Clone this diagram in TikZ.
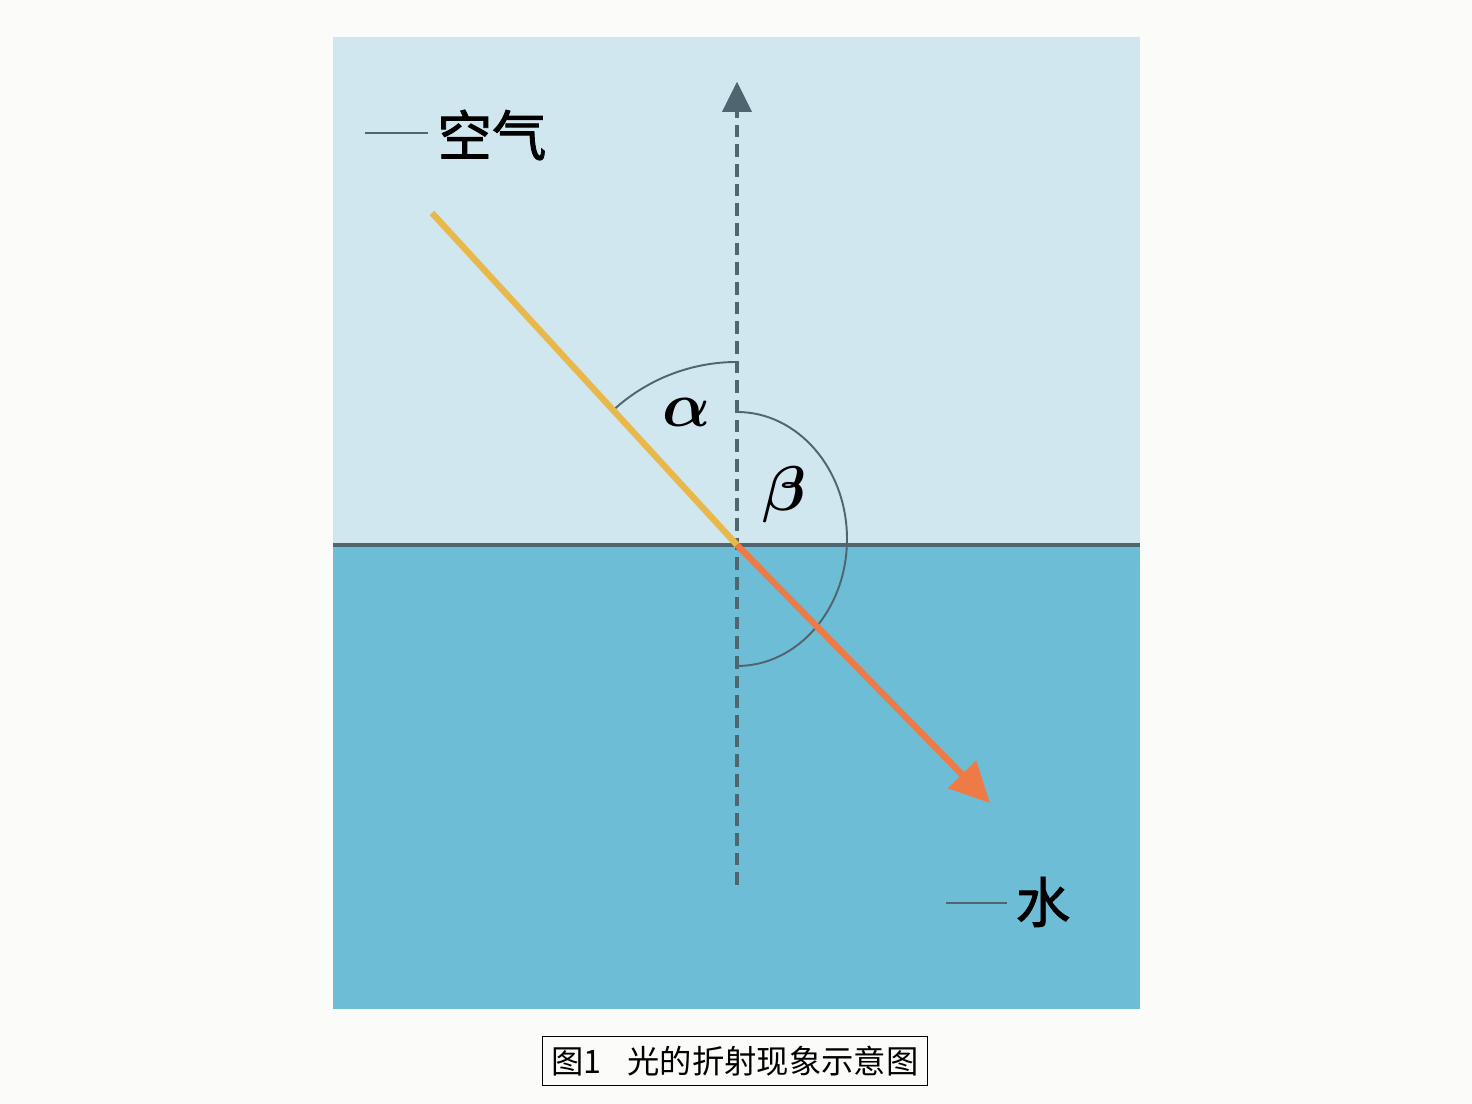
\RequirePackage{fix-cm}
\documentclass[tikz,border=0pt]{standalone}
\usepackage{amsmath}
\usepackage{bm}
\usepackage{fontspec}
\newfontfamily\cjk{Noto Sans CJK SC}
\newfontfamily\cjkheavy{Noto Sans CJK SC}[FakeBold=1.6]
\usetikzlibrary{arrows.meta}
\definecolor{airblue}{HTML}{D0E7F0}
\definecolor{waterblue}{HTML}{6DBDD6}
\definecolor{slate}{HTML}{4F6570}
\definecolor{rayyellow}{HTML}{E8B84B}
\definecolor{rayorange}{HTML}{EE7B46}
\definecolor{paper}{HTML}{FBFBF9}
\tikzset{
x=0.02cm, y=0.02cm, % one unit is one pixel of the reference
normal/.style={slate, line width=2pt, dash pattern=on 7.2pt off 4pt}, % the dashed normal
surface/.style={slate, line width=2.8pt}, % the boundary between air and water
incident/.style={rayyellow, line width=3.6pt}, % ray in air
refracted/.style={rayorange, line width=3.6pt, -{Triangle[length=0.8cm, width=0.76cm]}}, % ray in water
anglearc/.style={slate, line width=1.1pt}, % angle marks
leader/.style={slate, line width=1pt}, % short lines before the labels
medium/.style={font=\cjkheavy\fontsize{31}{31}\selectfont, inner sep=5pt}, % labels of the media
greek/.style={font=\fontsize{36}{36}\selectfont}, % angle names
}
\begin{document}
\begin{tikzpicture}
    \useasboundingbox[fill=paper] (0,0) rectangle (1472,1104);
    % the two media
    \fill[waterblue] (333,95) rectangle (1140,559);
    \fill[airblue] (333,559) rectangle (1140,1067);

    \coordinate (O) at (737,559);
    \coordinate (left_end) at (333,559);
    \coordinate (right_end) at (1140,559);
    \coordinate (normal_low) at (737,219);
    \coordinate (normal_high) at (737,1022);
    \coordinate (ray_start) at (432,891);
    \coordinate (ray_end) at (990,301);
    \coordinate (alpha_start) at (737,742);
    \coordinate (beta_start) at (737,692);

    \draw[surface] (left_end) -- (right_end);
    \draw[normal] (normal_low) -- (normal_high);
    \draw[slate, -{Triangle[length=17pt, width=17pt]}] (737,1000) -- (normal_high);

    % angle marks
    \draw[anglearc] (alpha_start) arc[start angle=90, end angle=133, radius=183];
    \draw[anglearc] (beta_start) arc[start angle=90, end angle=-90, x radius=110, y radius=127];

    % the light ray
    \draw[incident] (ray_start) -- (O);
    \draw[refracted] (O) -- (ray_end);

    \node[greek] (alpha) at (687,692) {$\bm{\alpha}$};
    \node[greek] (beta) at (784,609) {$\bm{\beta}$};

    % media labels
    \node[medium] (air) at (492,969) {空气};
    \node[medium] (water) at (1043,202) {水};
    \coordinate (air_tick) at (365,971);
    \coordinate (water_tick) at (946,201);
    \draw[leader] (air_tick) -- (air_tick -| air.west);
    \draw[leader] (water_tick) -- (water_tick -| water.west);

    % caption
    \node[draw, line width=1pt, minimum width=7.7cm, minimum height=0.98cm, font=\cjk\fontsize{18.4}{18.4}\selectfont] (caption) at (735,43) {图1\hspace{0.8em}光的折射现象示意图};
\end{tikzpicture}
\end{document}
